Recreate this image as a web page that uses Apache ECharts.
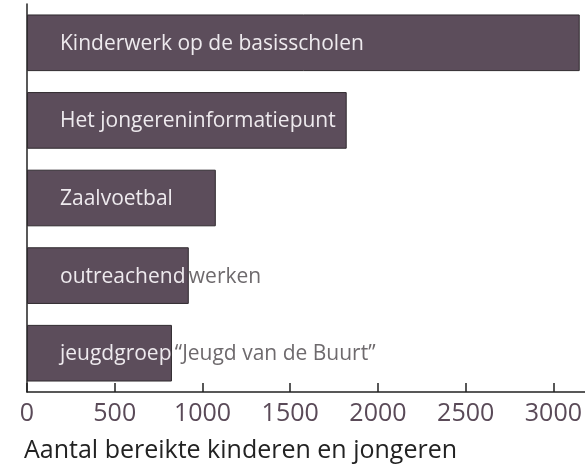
<!DOCTYPE html>
<html>
<head>
<meta charset="utf-8">
<script src="https://cdn.jsdelivr.net/npm/echarts@6/dist/echarts.min.js"></script>
<style>
  html, body { margin: 0; padding: 0; background: #fff; }
  #chart { width: 585px; height: 464px; }
</style>
</head>
<body>
<div id="chart"></div>
<script>
// projecten, van boven naar beneden
const categories = [
  'Kinderwerk op de basisscholen',
  'Het jongereninformatiepunt',
  'Zaalvoetbal',
  'outreachend werken',
  'jeugdgroep “Jeugd van de Buurt”'
];
const values = [3150, 1822, 1076, 922, 826];
// deel van het label dat binnen de balk valt (wit), rest grijs
const insideText = ['Kinderwerk op de basisscholen', 'Het jongereninformatiepunt', 'Zaalvoetbal', 'outreachend', 'jeugdgroep'];
const outsideText = ['', '', '', 'werken', '“Jeugd van de Buurt”'];
const tickValues = [0, 500, 1000, 1500, 2000, 2500, 3000];

const chart = echarts.init(document.getElementById('chart'));
const font = '"Open Sans", "Noto Sans", sans-serif';

chart.setOption({
  animation: false,
  grid: { left: 27, right: 0, top: 4, bottom: 72 },
  xAxis: {
    type: 'value',
    min: 0,
    max: 3178,
    name: 'Aantal bereikte kinderen en jongeren',
    nameLocation: 'start',
    nameGap: 0,
    nameTextStyle: {
      fontFamily: font, fontSize: 25, color: '#222',
      align: 'left', verticalAlign: 'top', padding: [46, 0, 0, -3]
    },
    axisLine: { show: true, lineStyle: { color: '#222', width: 1.5 } },
    axisTick: { show: true, inside: true, length: 9, customValues: tickValues, lineStyle: { color: '#222', width: 1.5 } },
    axisLabel: {
      customValues: tickValues, fontFamily: font, fontSize: 25, color: '#5a4a58', margin: 9,
      formatter: v => String(v)
    },
    splitLine: { show: false }
  },
  yAxis: {
    type: 'category',
    inverse: true,
    data: categories,
    axisLine: { show: true, lineStyle: { color: '#222', width: 1.5 } },
    axisTick: { show: false },
    axisLabel: { show: false }
  },
  series: [{
    type: 'bar',
    barWidth: '73%',
    data: values,
    itemStyle: { color: '#5c4d5b', borderColor: '#2f2a2e', borderWidth: 1 },
    label: {
      show: true,
      position: 'insideLeft',
      distance: 33,
      offset: [0, 1],
      formatter: p => '{w|' + insideText[p.dataIndex] + '}' +
        (outsideText[p.dataIndex] ? ' {g|' + outsideText[p.dataIndex] + '}' : ''),
      rich: {
        w: { fontFamily: font, fontSize: 21, color: '#eeeaee' },
        g: { fontFamily: font, fontSize: 21, color: '#6e6a6d' }
      }
    }
  }]
});
</script>
</body>
</html>
